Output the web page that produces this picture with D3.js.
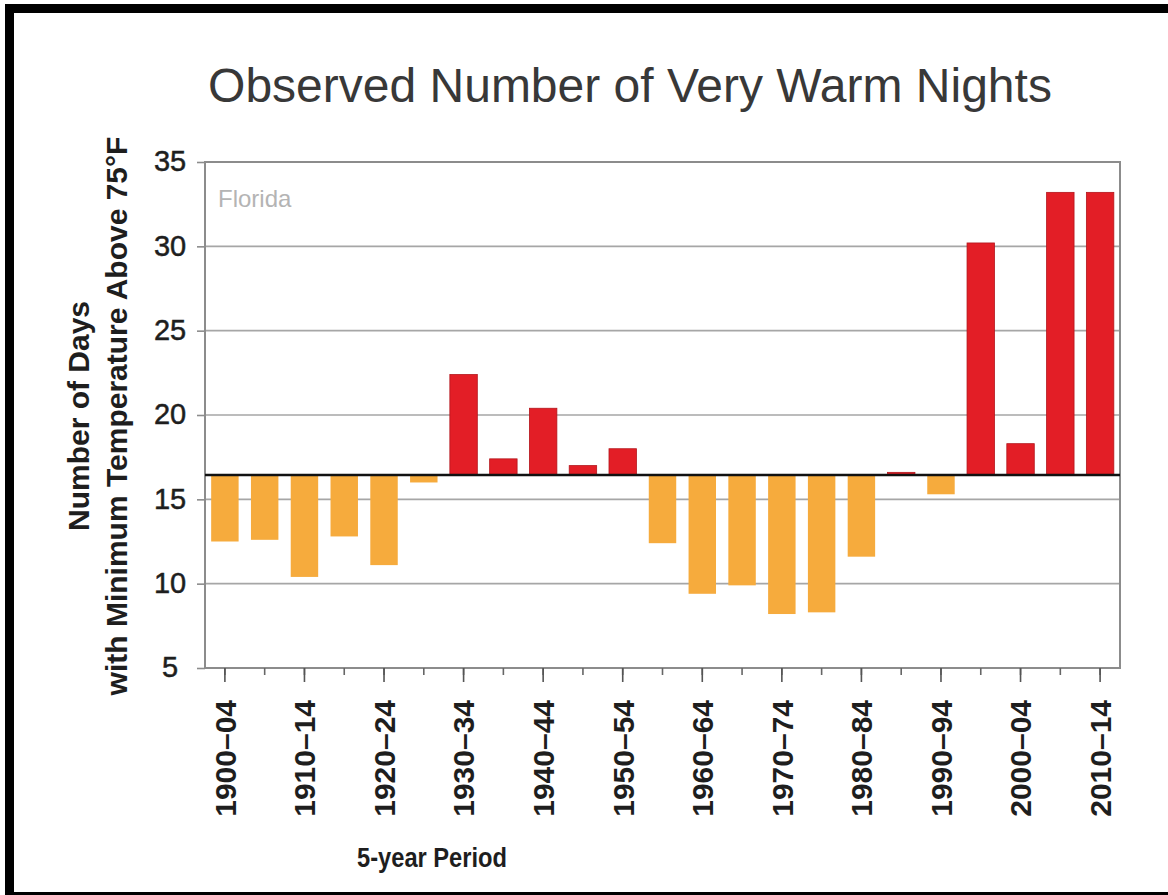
<!DOCTYPE html>
<html>
<head>
<meta charset="utf-8">
<script src="https://cdn.jsdelivr.net/npm/d3@7"></script>
<style>
  html, body { margin: 0; padding: 0; background: #fff; }
  svg { display: block; font-family: "Liberation Sans", Arial, sans-serif; }
</style>
</head>
<body>
<svg id="chart" width="1168" height="895"></svg>
<script>
// ---- data ----
const categories = ["1900–04","1905–09","1910–14","1915–19","1920–24","1925–29","1930–34","1935–39",
  "1940–44","1945–49","1950–54","1955–59","1960–64","1965–69","1970–74","1975–79","1980–84",
  "1985–89","1990–94","1995–99","2000–04","2005–09","2010–14"];
const values = [12.5,12.6,10.4,12.8,11.1,16.0,22.4,17.4,20.4,17.0,18.0,12.4,9.4,9.9,8.2,8.3,11.6,
  16.6,15.3,30.2,18.3,33.2,33.2];
const baselineValue = 16.45;
const yTicks = [5,10,15,20,25,30,35];
const yDomain = [5,35];
const labeledCategories = categories.filter((d, i) => i % 2 === 0);
const titleText = "Observed Number of Very Warm Nights";
const regionText = "Florida";
const yTitleLines = ["Number of Days", "with Minimum Temperature Above 75°F"];
const xTitleText = "5-year Period";

// ---- layout ----
const W = 1168, H = 895;
const plot = { left: 205, right: 1120, top: 162, bottom: 668 };
const svg = d3.select("#chart");

// frame (black border of the picture)
svg.append("rect").attr("x", 5).attr("y", 4).attr("width", 9).attr("height", H - 4).attr("fill", "#000");
svg.append("rect").attr("x", 5).attr("y", 4).attr("width", W - 5).attr("height", 9).attr("fill", "#000");
svg.append("rect").attr("x", 5).attr("y", 892).attr("width", W - 5).attr("height", 3).attr("fill", "#000");

const x = d3.scaleBand().domain(categories).range([plot.left, plot.right])
  .paddingInner(0.31).paddingOuter(0.155);
const y = d3.scaleLinear().domain(yDomain).range([plot.bottom, plot.top]);

// title
svg.append("text").attr("x", 630).attr("y", 102).attr("text-anchor", "middle")
  .attr("font-size", 48).attr("fill", "#383838").text(titleText);

// grid lines
svg.append("g").selectAll("line").data(yTicks.filter(t => t > yDomain[0] && t < yDomain[1]))
  .join("line")
  .attr("x1", plot.left).attr("x2", plot.right)
  .attr("y1", d => y(d)).attr("y2", d => y(d))
  .attr("stroke", "#a6a6a6").attr("stroke-width", 1.6);

// bars
svg.append("g").selectAll("rect").data(values.map((v, i) => ({ c: categories[i], v })))
  .join("rect")
  .attr("x", d => x(d.c))
  .attr("width", x.bandwidth())
  .attr("y", d => Math.min(y(d.v), y(baselineValue)))
  .attr("height", d => Math.abs(y(d.v) - y(baselineValue)))
  .attr("fill", d => d.v >= baselineValue ? "#e31e26" : "#f6ab3d")
  .attr("stroke", d => d.v >= baselineValue ? "#b3161c" : "none")
  .attr("stroke-width", 0.8);

// plot frame
svg.append("rect").attr("x", plot.left).attr("y", plot.top)
  .attr("width", plot.right - plot.left).attr("height", plot.bottom - plot.top)
  .attr("fill", "none").attr("stroke", "#8c8c8c").attr("stroke-width", 2);

// baseline
svg.append("line").attr("x1", plot.left).attr("x2", plot.right)
  .attr("y1", y(baselineValue)).attr("y2", y(baselineValue))
  .attr("stroke", "#111").attr("stroke-width", 2.5);

// region label
svg.append("text").attr("x", 218).attr("y", 207).attr("font-size", 24)
  .attr("fill", "#b4b4b4").text(regionText);

// y axis
const yAxis = svg.append("g").attr("transform", `translate(${plot.left},0)`)
  .call(d3.axisLeft(y).tickValues(yTicks).tickSize(8).tickFormat(d3.format("d")));
yAxis.select(".domain").remove();
yAxis.selectAll(".tick line").attr("stroke", "#8c8c8c").attr("stroke-width", 1.6);
yAxis.selectAll(".tick text").attr("x", 170 - plot.left).attr("text-anchor", "middle")
  .attr("dy", "0.3em").attr("font-size", 29).attr("fill", "#1e1e1e")
  .attr("stroke", "#1e1e1e").attr("stroke-width", 0.5)
  .attr("font-family", "'Liberation Sans', Arial, sans-serif");

// x axis: minor ticks on every category, long ticks + labels on every other
const xAxisMinor = svg.append("g").attr("transform", `translate(0,${plot.bottom})`)
  .call(d3.axisBottom(x).tickSize(7).tickFormat(""));
xAxisMinor.select(".domain").remove();
xAxisMinor.selectAll(".tick line").attr("stroke", "#666").attr("stroke-width", 1.6);

const xAxisMajor = svg.append("g").attr("transform", `translate(0,${plot.bottom})`)
  .call(d3.axisBottom(x).tickValues(labeledCategories).tickSize(14).tickPadding(18));
xAxisMajor.select(".domain").remove();
xAxisMajor.selectAll(".tick line").attr("stroke", "#555").attr("stroke-width", 1.6);
xAxisMajor.selectAll(".tick text")
  .attr("transform", "rotate(-90)")
  .attr("text-anchor", "end")
  .attr("x", -32).attr("y", 0).attr("dy", "0.36em")
  .attr("font-size", 30).attr("font-weight", "bold").attr("fill", "#1e1e1e")
  .attr("font-family", "'Liberation Sans', Arial, sans-serif");

// axis titles
svg.append("text").attr("x", 432).attr("y", 867).attr("text-anchor", "middle")
  .attr("font-size", 27).attr("font-weight", "bold").attr("fill", "#1e1e1e")
  .attr("textLength", 150).attr("lengthAdjust", "spacingAndGlyphs").text(xTitleText);

const yTitleX = [89, 127];
yTitleLines.forEach((t, i) => {
  svg.append("text").attr("transform", `translate(${yTitleX[i]},416) rotate(-90)`)
    .attr("text-anchor", "middle").attr("font-size", 30).attr("font-weight", "bold")
    .attr("fill", "#1e1e1e").text(t);
});
</script>
</body>
</html>
